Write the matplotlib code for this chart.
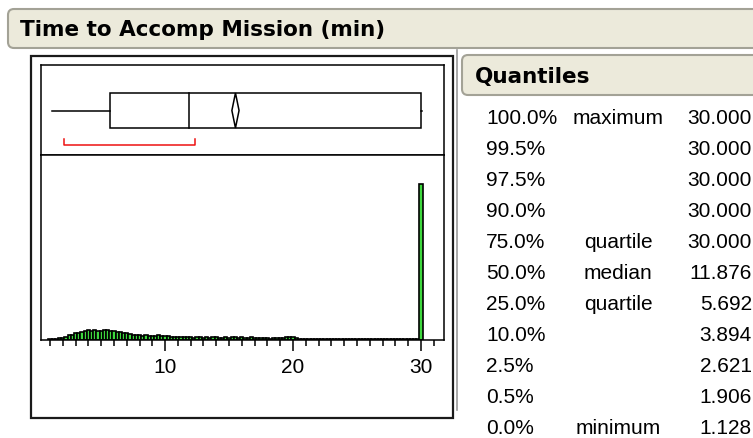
import matplotlib.pyplot as plt
from matplotlib.patches import FancyBboxPatch, Rectangle, Polygon
import numpy as np

title = "Time to Accomp Mission (min)"

# histogram: bins of 0.25 min starting at 1.0, counts
bin_start = 1.0
bin_width = 0.25
counts = [1, 1, 1, 2,  2, 3, 5, 5,  7, 7, 8, 9,  10, 9, 10, 9,
          9, 10, 10, 9,  9, 8, 8, 7,  7, 6, 5, 5,  5, 4, 5, 4,
          4, 4, 5, 4,  4, 4, 3, 3,  3, 3, 3, 3,  3, 2, 3, 3,
          2, 3, 2, 3,  3, 2, 2, 3,  2, 3, 3, 2,  3, 2, 2, 3,
          2, 2, 2, 2,  2, 1, 2, 2,  2, 2, 3, 3,  3, 2, 1, 1,
          1, 1, 1, 1,  1, 1, 1, 1,  1, 1, 1, 1,  1, 1, 1, 1,
          1, 1, 1, 1,  1, 1, 1, 1,  1, 1, 1, 1,  1, 1, 1, 1,
          1, 1, 1, 1,  156]

# box plot summary
q_min, q1, median, q3, q_max = 1.128, 5.692, 11.876, 30.0, 30.0
mean, mean_lo, mean_hi = 15.5, 15.22, 15.78
short_half = (2.1, 12.3)

# quantile table
pct_labels = ["100.0%", "99.5%", "97.5%", "90.0%", "75.0%", "50.0%",
              "25.0%", "10.0%", "2.5%", "0.5%", "0.0%"]
pct_names = ["maximum", "", "", "", "quartile", "median", "quartile",
             "", "", "", "minimum"]
pct_values = [30.000, 30.000, 30.000, 30.000, 30.000, 11.876, 5.692,
              3.894, 2.621, 1.906, 1.128]

W, H = 753, 438
fig = plt.figure(figsize=(W / 100, H / 100), dpi=100)

def px_rect(x0, y0, x1, y1):
    return [x0 / W, 1 - y1 / H, (x1 - x0) / W, (y1 - y0) / H]

# overlay in pixel coordinates for headers, frames and table
ov = fig.add_axes([0, 0, 1, 1])
ov.set_xlim(0, W)
ov.set_ylim(H, 0)
ov.axis('off')

head_fc, head_ec = '#ECEADB', '#A3A296'
ov.add_patch(FancyBboxPatch((8, 9), 780, 39, boxstyle="round,pad=0,rounding_size=6",
                            fc=head_fc, ec=head_ec, lw=1.5))
ov.text(20, 35.7, title, fontsize=15.5, fontweight='bold', family='DejaVu Sans',
        va='baseline', ha='left')

ov.add_patch(FancyBboxPatch((462, 55), 330, 40, boxstyle="round,pad=0,rounding_size=6",
                            fc=head_fc, ec=head_ec, lw=1.5))
ov.text(475, 83, "Quantiles", fontsize=15.5, fontweight='bold', family='DejaVu Sans',
        va='baseline', ha='left')

ov.add_patch(Rectangle((31, 56), 422, 362, fill=False, ec='#1a1a1a', lw=1.6))
ov.plot([457, 457], [50, 410], color='#999999', lw=1.2)

for i, (p, n, v) in enumerate(zip(pct_labels, pct_names, pct_values)):
    yb = 124 + i * 31
    ov.text(486, yb, p, fontsize=15, family='Liberation Sans', va='baseline', ha='left')
    ov.text(618, yb, n, fontsize=15, family='Liberation Sans', va='baseline', ha='center')
    ov.text(752, yb, f"{v:.3f}", fontsize=15, family='Liberation Sans',
            va='baseline', ha='right')

# box plot panel
ax_box = fig.add_axes(px_rect(41, 65, 444, 155))
ax_hist = fig.add_axes(px_rect(41, 155, 444, 340), sharex=ax_box)

ax_box.set_ylim(0, 1)
ax_box.set_xlim(0.3, 31.8)
lw = 1.1
ax_box.add_patch(Rectangle((q1, 0.3), q3 - q1, 0.389, fill=False, ec='black', lw=lw))
ax_box.plot([median, median], [0.3, 0.689], color='black', lw=lw)
ax_box.plot([q_min, q1], [0.489, 0.489], color='black', lw=lw)
ax_box.plot([q3, q_max + 0.08], [0.489, 0.489], color='black', lw=lw)
ax_box.add_patch(Polygon([(mean_lo, 0.4945), (mean, 0.689), (mean_hi, 0.4945), (mean, 0.3)],
                         closed=True, fill=False, ec='black', lw=lw))
ax_box.plot([short_half[0], short_half[0], short_half[1], short_half[1]],
            [0.178, 0.111, 0.111, 0.178], color='#ee1111', lw=lw)
ax_box.tick_params(left=False, bottom=False, labelleft=False, labelbottom=False)

# histogram panel
centers = bin_start + bin_width * np.arange(len(counts))
ax_hist.bar(centers, counts, width=bin_width, color='#3ED83E', edgecolor='black', linewidth=1.2)
ax_hist.set_ylim(0, 185)
ax_hist.set_yticks([])
ax_hist.set_xticks([10, 20, 30])
ax_hist.set_xticks(np.arange(1, 32), minor=True)
ax_hist.tick_params(axis='x', which='major', direction='out', length=8, width=1.1,
                    labelsize=15, pad=5)
ax_hist.tick_params(axis='x', which='minor', direction='out', length=4.3, width=1.1)
for lab in ax_hist.get_xticklabels():
    lab.set_family('Liberation Sans')

for a in (ax_box, ax_hist):
    for s in a.spines.values():
        s.set_linewidth(lw)
        s.set_color('black')

fig.savefig("out.png", dpi=100)
